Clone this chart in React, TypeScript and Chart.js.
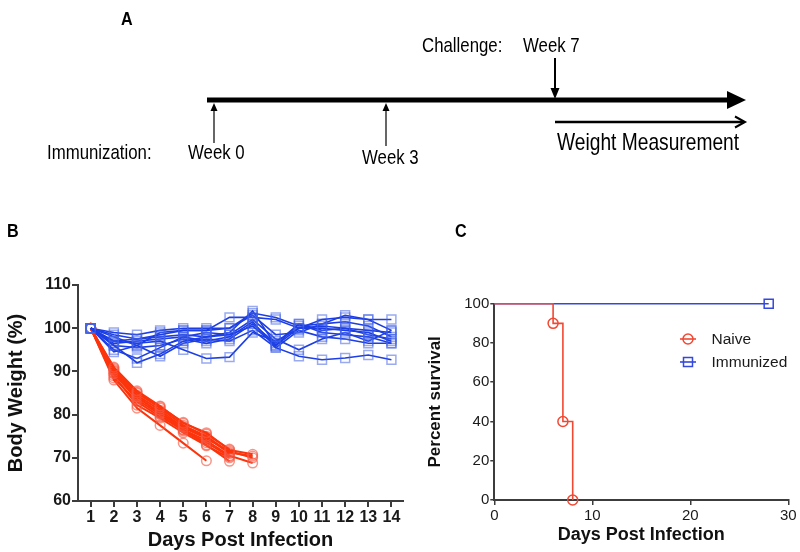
import React, { useEffect, useRef } from "react";
import { Chart, registerables } from "chart.js";

Chart.register(...registerables);

// ---------- Panel B data ----------
const days = [1, 2, 3, 4, 5, 6, 7, 8, 9, 10, 11, 12, 13, 14];
const weightTicks = [60, 70, 80, 90, 100, 110];

const naiveWeights: number[][] = [
  [100, 91, 85.5, 82, 78, 75.8, 71.8, 70.8],
  [100, 90.5, 85, 81.5, 77.5, 75, 71.2, 70.4],
  [100, 90, 84.5, 81, 77, 74.5, 71.5, 70.0],
  [100, 89.5, 84, 80.5, 76.5, 74, 70.5, 68.8],
  [100, 90.2, 84.2, 80.2, 77.2, 74.8, 71.0],
  [100, 89.5, 83.5, 80, 76.2, 73.5, 70.3],
  [100, 88.5, 83, 79.5, 76.5, 73, 69.2],
  [100, 90.8, 85.2, 81.8, 78.2, 75.5, 72],
  [100, 88, 81.5, 77.5, 73.4, 69.3],
  [100, 89, 82.2, 79.2, 75.8, 72.8, 70],
];

const immunizedWeights: number[][] = [
  [100, 96, 92, 94, 97, 98, 98.5, 100.5, 96, 100, 100.5, 100, 99.5, 99],
  [100, 95, 93, 95.5, 98, 97, 98, 101.5, 95.5, 93.5, 92.7, 93.1, 93.8, 92.7],
  [100, 97, 96.5, 97, 95, 93, 93.3, 99, 97, 100, 100, 99.5, 99, 97],
  [100, 98.5, 97.5, 98.5, 99.5, 99.5, 102.5, 102.5, 102, 100, 102, 102.5, 102, 102],
  [100, 99, 98.5, 99.5, 100, 100, 100, 103.5, 102.5, 100.5, 101, 103, 102, 99.5],
  [100, 97, 97.5, 98, 98.5, 98, 99, 104, 96, 101, 99, 98.5, 98, 96.5],
  [100, 96, 95.5, 96, 97.5, 96.5, 97.5, 101, 96.5, 101, 99.5, 100, 98.5, 97.5],
  [100, 94.5, 96, 99, 99.5, 99.5, 100, 103, 98.5, 99, 101, 101.5, 100.5, 98],
  [100, 98, 96, 93.5, 96.5, 97.5, 97, 99.5, 95.5, 99.5, 98, 97.5, 96.5, 96.5],
  [100, 96.5, 97, 97.5, 98, 99, 98.5, 102, 97.5, 95, 97.5, 99, 97, 99.5],
];

// ---------- Panel C data ----------
const survivalXTicks = [0, 10, 20, 30];
const survivalYTicks = [0, 20, 40, 60, 80, 100];
const naiveSurvivalDays = [0, 6, 7, 8];
const naiveSurvival = [100, 90, 40, 0];
const immunizedSurvivalDays = [0, 28];
const immunizedSurvival = [100, 100];
const groupNames = ["Naive", "Immunized"];

// ---------- Panel A labels ----------
const immunizationLabel = "Immunization:";
const challengeLabel = "Challenge:";
const immunizationWeeks = ["Week 0", "Week 3"];
const challengeWeek = "Week 7";
const measurementLabel = "Weight Measurement";

const ARIAL = '"Liberation Sans", Arial, sans-serif';
const AXIS = "#3c3c3c";
const RED_LINE = "rgb(252,52,12)";
const RED_PT = "rgba(244,92,72,0.65)";
const BLUE_LINE = "rgb(28,62,228)";
const BLUE_PT = "rgba(70,100,230,0.55)";

function fixTicks(values: number[]) {
  return (scale: any) => {
    scale.ticks = values.map((v) => ({ value: v }));
  };
}

function narrowText(ctx: CanvasRenderingContext2D, text: string, x: number, y: number, font: string, sx = 0.8) {
  ctx.save();
  ctx.font = font;
  ctx.translate(x, y);
  ctx.scale(sx, 1);
  ctx.fillText(text, 0, 0);
  ctx.restore();
}

function PanelA() {
  const ref = useRef<HTMLCanvasElement>(null);
  useEffect(() => {
    const drawer = {
      id: "timeline",
      afterDraw(chart: any) {
        const ctx = chart.ctx as CanvasRenderingContext2D;
        ctx.save();
        ctx.fillStyle = "#000";
        ctx.strokeStyle = "#000";
        ctx.textBaseline = "alphabetic";
        // panel letter
        narrowText(ctx, "A", 121, 25, `bold 19px ${ARIAL}`, 0.85);
        // thick timeline
        ctx.lineWidth = 5;
        ctx.beginPath();
        ctx.moveTo(207, 100);
        ctx.lineTo(730, 100);
        ctx.stroke();
        ctx.beginPath();
        ctx.moveTo(727, 91);
        ctx.lineTo(746, 100);
        ctx.lineTo(727, 109);
        ctx.closePath();
        ctx.fill();
        // challenge arrow (down)
        ctx.lineWidth = 2;
        ctx.beginPath();
        ctx.moveTo(555, 58);
        ctx.lineTo(555, 92);
        ctx.stroke();
        ctx.beginPath();
        ctx.moveTo(550.5, 88);
        ctx.lineTo(555, 99);
        ctx.lineTo(559.5, 88);
        ctx.closePath();
        ctx.fill();
        // immunization arrows (up)
        const ups: [number, number][] = [
          [214, 143],
          [386, 146],
        ];
        ctx.lineWidth = 1.2;
        ups.forEach(([x, y0]) => {
          ctx.beginPath();
          ctx.moveTo(x, y0);
          ctx.lineTo(x, 108);
          ctx.stroke();
          ctx.beginPath();
          ctx.moveTo(x - 3.5, 111);
          ctx.lineTo(x, 103);
          ctx.lineTo(x + 3.5, 111);
          ctx.closePath();
          ctx.fill();
        });
        // measurement arrow
        ctx.lineWidth = 2.5;
        ctx.beginPath();
        ctx.moveTo(555, 122);
        ctx.lineTo(744, 122);
        ctx.stroke();
        ctx.lineWidth = 2;
        ctx.beginPath();
        ctx.moveTo(735, 116.5);
        ctx.lineTo(745, 122);
        ctx.lineTo(735, 127.5);
        ctx.stroke();
        // texts
        const f20 = `21px ${ARIAL}`;
        narrowText(ctx, challengeLabel, 422, 52, f20);
        narrowText(ctx, challengeWeek, 523, 52, f20);
        narrowText(ctx, immunizationLabel, 47, 159, f20);
        narrowText(ctx, immunizationWeeks[0], 188, 159, f20);
        narrowText(ctx, immunizationWeeks[1], 362, 164, f20);
        narrowText(ctx, measurementLabel, 557, 150, `24px ${ARIAL}`);
        // panel letters B, C
        narrowText(ctx, "B", 7, 237, `bold 19px ${ARIAL}`, 0.85);
        narrowText(ctx, "C", 455, 237, `bold 19px ${ARIAL}`, 0.85);
        ctx.restore();
      },
    };
    const chart = new Chart(ref.current!, {
      type: "scatter",
      data: { datasets: [] },
      options: {
        animation: false,
        responsive: false,
        events: [],
        layout: { padding: 0 },
        plugins: { legend: { display: false }, tooltip: { enabled: false } },
        scales: { x: { display: false }, y: { display: false } },
      },
      plugins: [drawer],
    });
    return () => chart.destroy();
  }, []);
  return (
    <canvas
      ref={ref}
      width={800}
      height={250}
      style={{ position: "absolute", left: 0, top: 0, width: 800, height: 250 }}
    />
  );
}

function PanelB() {
  const ref = useRef<HTMLCanvasElement>(null);
  useEffect(() => {
    const blue = immunizedWeights.map((s) => ({
      data: s.map((v, i) => ({ x: days[i], y: v })),
      borderColor: BLUE_LINE,
      borderWidth: 1.6,
      pointStyle: "rect" as const,
      pointRadius: 6.3,
      pointBorderColor: BLUE_PT,
      pointBackgroundColor: "rgba(255,255,255,0)",
      pointBorderWidth: 1.5,
      clip: false as any,
    }));
    const red = naiveWeights.map((s) => ({
      data: s.map((v, i) => ({ x: days[i], y: v })),
      borderColor: RED_LINE,
      borderWidth: 2,
      pointStyle: "circle" as const,
      pointRadius: 4.8,
      pointBorderColor: RED_PT,
      pointBackgroundColor: "rgba(255,255,255,0)",
      pointBorderWidth: 1.5,
      clip: false as any,
    }));
    const tickFont = { family: ARIAL, size: 16, weight: "bold" as const };
    const chart = new Chart(ref.current!, {
      type: "line",
      data: { datasets: [...blue, ...red] as any },
      options: {
        animation: false,
        responsive: false,
        events: [],
        layout: { padding: { top: 25, right: 17, left: 0, bottom: 0 } },
        plugins: { legend: { display: false }, tooltip: { enabled: false } },
        scales: {
          x: {
            type: "linear",
            min: 0.45,
            max: 14.5,
            afterBuildTicks: fixTicks(days),
            afterFit: (s: any) => {
              s.height = 51;
            },
            ticks: { font: tickFont, color: "#1a1a1a", padding: 1, maxRotation: 0, autoSkip: false },
            grid: { drawOnChartArea: false, drawTicks: true, tickLength: 6, color: AXIS, lineWidth: 2 },
            border: { color: AXIS, width: 2 },
            title: {
              display: true,
              text: "Days Post Infection",
              font: { family: ARIAL, size: 20, weight: "bold" },
              color: "#111",
              padding: { top: 0, bottom: 0 },
            },
          },
          y: {
            type: "linear",
            min: 60,
            max: 110,
            afterBuildTicks: fixTicks(weightTicks),
            afterFit: (s: any) => {
              s.width = 78;
            },
            ticks: { font: tickFont, color: "#1a1a1a", padding: 1 },
            grid: { drawOnChartArea: false, drawTicks: true, tickLength: 6, color: AXIS, lineWidth: 2 },
            border: { color: AXIS, width: 2 },
            title: {
              display: true,
              text: "Body Weight (%)",
              font: { family: ARIAL, size: 20, weight: "bold" },
              color: "#111",
              padding: { top: 4, bottom: 0 },
            },
          },
        },
      },
    });
    return () => chart.destroy();
  }, []);
  return (
    <canvas
      ref={ref}
      width={420}
      height={292}
      style={{ position: "absolute", left: 0, top: 260, width: 420, height: 292 }}
    />
  );
}

function PanelC() {
  const ref = useRef<HTMLCanvasElement>(null);
  useEffect(() => {
    const legendPlugin = {
      id: "survLegend",
      afterDraw(chart: any) {
        const ctx = chart.ctx as CanvasRenderingContext2D;
        ctx.save();
        chart.data.datasets.forEach((ds: any, i: number) => {
          const y = 79 + i * 23;
          const xs = 268;
          ctx.strokeStyle = ds.borderColor;
          ctx.lineWidth = 1.6;
          ctx.beginPath();
          ctx.moveTo(xs - 8, y);
          ctx.lineTo(xs + 8, y);
          ctx.stroke();
          ctx.lineWidth = 1.5;
          ctx.strokeStyle = ds.pointBorderColor;
          ctx.beginPath();
          if (ds.pointStyle === "rect") {
            ctx.rect(xs - 4.5, y - 4.5, 9, 9);
          } else {
            ctx.arc(xs, y, 5, 0, Math.PI * 2);
          }
          ctx.stroke();
          ctx.fillStyle = "#1a1a1a";
          ctx.font = `15.5px ${ARIAL}`;
          ctx.textBaseline = "middle";
          ctx.fillText(ds.label, 291.5, y + 1);
        });
        ctx.restore();
      },
    };
    const tickFont = { family: ARIAL, size: 15 };
    const chart = new Chart(ref.current!, {
      type: "line",
      data: {
        datasets: [
          {
            label: groupNames[0],
            data: naiveSurvivalDays.map((d, i) => ({ x: d, y: naiveSurvival[i] })),
            stepped: "before",
            borderColor: "rgb(242,72,50)",
            borderWidth: 1.6,
            pointStyle: "circle",
            pointRadius: naiveSurvival.map((_, i) => (i === 0 ? 0 : 5)),
            pointBorderColor: "rgb(242,72,50)",
            pointBackgroundColor: "rgba(255,255,255,0)",
            pointBorderWidth: 1.5,
            clip: false as any,
          },
          {
            label: groupNames[1],
            data: immunizedSurvivalDays.map((d, i) => ({ x: d, y: immunizedSurvival[i] })),
            stepped: "before",
            borderColor: "rgb(52,72,222)",
            borderWidth: 1.6,
            pointStyle: "rect",
            pointRadius: immunizedSurvival.map((_, i) => (i === 0 ? 0 : 6.4)),
            pointBorderColor: "rgb(52,72,222)",
            pointBackgroundColor: "rgba(255,255,255,0)",
            pointBorderWidth: 1.5,
            clip: false as any,
          },
        ] as any,
      },
      options: {
        animation: false,
        responsive: false,
        events: [],
        layout: { padding: { top: 43.7, right: 11.7, left: 0, bottom: 0 } },
        plugins: { legend: { display: false }, tooltip: { enabled: false } },
        scales: {
          x: {
            type: "linear",
            min: 0,
            max: 30,
            afterBuildTicks: fixTicks(survivalXTicks),
            afterFit: (s: any) => {
              s.height = 52;
            },
            ticks: { font: tickFont, color: "#1a1a1a", padding: 2, maxRotation: 0 },
            grid: { drawOnChartArea: false, drawTicks: true, tickLength: 5, color: AXIS, lineWidth: 1.5 },
            border: { color: AXIS, width: 2 },
            title: {
              display: true,
              text: "Days Post Infection",
              font: { family: ARIAL, size: 18, weight: "bold" },
              color: "#111",
              padding: { top: 0, bottom: 6 },
            },
          },
          y: {
            type: "linear",
            min: 0,
            max: 100,
            afterBuildTicks: fixTicks(survivalYTicks),
            afterFit: (s: any) => {
              s.width = 74.3;
            },
            ticks: { font: tickFont, color: "#1a1a1a", padding: 1 },
            grid: { drawOnChartArea: false, drawTicks: true, tickLength: 4, color: AXIS, lineWidth: 1.5 },
            border: { color: AXIS, width: 2 },
            title: {
              display: true,
              text: "Percent survival",
              font: { family: ARIAL, size: 17, weight: "bold" },
              color: "#111",
              padding: { top: 4.8, bottom: 0 },
            },
          },
        },
      },
      plugins: [legendPlugin],
    });
    return () => chart.destroy();
  }, []);
  return (
    <canvas
      ref={ref}
      width={380}
      height={292}
      style={{ position: "absolute", left: 420, top: 260, width: 380, height: 292 }}
    />
  );
}

export default function App() {
  return (
    <div
      style={{
        position: "absolute",
        left: 0,
        top: 0,
        width: 800,
        height: 552,
        background: "#fff",
        overflow: "hidden",
      }}
    >
      <PanelA />
      <PanelB />
      <PanelC />
    </div>
  );
}
